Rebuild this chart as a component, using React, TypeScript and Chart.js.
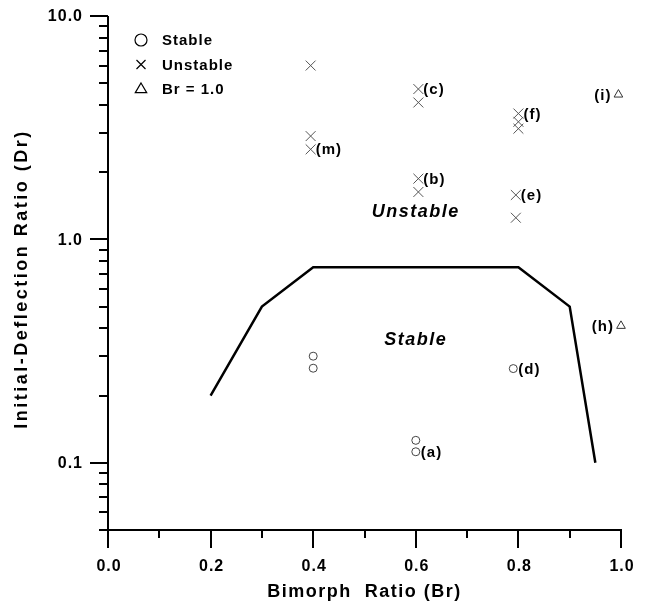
import React, { useEffect, useRef } from 'react';
import { Chart, registerables } from 'chart.js';

Chart.register(...registerables);

// ---- data ----
const stableBr = [0.4, 0.4, 0.6, 0.6, 0.79];
const stableDr = [0.3, 0.265, 0.126, 0.112, 0.264];
const stableTags = ['', '', '', '(a)', '(d)'];

const unstableBr = [0.395, 0.395, 0.395, 0.605, 0.605, 0.605, 0.605, 0.8, 0.8, 0.8, 0.795, 0.795];
const unstableDr = [6.0, 2.9, 2.53, 4.71, 4.1, 1.87, 1.63, 3.66, 3.36, 3.13, 1.58, 1.25];
const unstableTags = ['', '', '(m)', '(c)', '', '(b)', '', '(f)', '', '', '(e)', ''];

const br1Br = [0.995, 1.0, 1.005];
const br1Dr = [4.45, 0.41, 0.198];
const br1Tags = ['(i)', '(h)', ''];

const boundaryBr = [0.2, 0.3, 0.4, 0.8, 0.9, 0.95];
const boundaryDr = [0.2, 0.5, 0.75, 0.75, 0.5, 0.1];

const xMajorTicks = [0, 0.2, 0.4, 0.6, 0.8, 1.0];
const xTickLabels = ['0.0', '0.2', '0.4', '0.6', '0.8', '1.0'];
const xMinorTicks = [0.1, 0.3, 0.5, 0.7, 0.9];

const yMajorTicks = [0.1, 1, 10];
const yTickLabels = ['0.1', '1.0', '10.0'];
const yMinorTicks = [0.05, 0.06, 0.07, 0.08, 0.09, 0.2, 0.3, 0.4, 0.5, 0.6, 0.7, 0.8, 0.9, 2, 3, 4, 5, 6, 7, 8, 9];

const legendLabels = ['Stable', 'Unstable', 'Br = 1.0'];
const legendShapes = ['circle', 'cross', 'triangle'];

const regionTexts = ['Unstable', 'Stable'];
const regionBr = [0.6, 0.6];
const regionDr = [1.32, 0.355];

const xTitle = 'Bimorph  Ratio (Br)';
const yTitle = 'Initial-Deflection Ratio (Dr)';

const FONT = "'Liberation Sans', Arial, sans-serif";

function toPoints(xs: number[], ys: number[]) {
  return xs.map((x, i) => ({ x, y: ys[i] }));
}

function drawShape(ctx: CanvasRenderingContext2D, shape: string, x: number, y: number, r: number) {
  ctx.beginPath();
  if (shape === 'circle') {
    ctx.arc(x, y, r, 0, Math.PI * 2);
  } else if (shape === 'cross') {
    const d = r * 0.75;
    ctx.moveTo(x - d, y - d);
    ctx.lineTo(x + d, y + d);
    ctx.moveTo(x - d, y + d);
    ctx.lineTo(x + d, y - d);
  } else {
    ctx.moveTo(x, y - r);
    ctx.lineTo(x + r * 0.95, y + r * 0.6);
    ctx.lineTo(x - r * 0.95, y + r * 0.6);
    ctx.closePath();
  }
  ctx.stroke();
}

const decorPlugin = {
  id: 'decor',
  afterDraw(chart: any) {
    const ctx: CanvasRenderingContext2D = chart.ctx;
    const xs = chart.scales.x;
    const ys = chart.scales.y;
    const { left, right, top, bottom } = chart.chartArea;
    ctx.save();
    ctx.strokeStyle = '#000';
    ctx.lineWidth = 2;
    ctx.lineCap = 'butt';
    // axis lines
    ctx.beginPath();
    ctx.moveTo(left, top);
    ctx.lineTo(left, bottom);
    ctx.moveTo(left, bottom);
    ctx.lineTo(right + 1, bottom);
    ctx.stroke();
    // y ticks
    ctx.beginPath();
    yMajorTicks.forEach((v) => {
      const p = Math.round(ys.getPixelForValue(v));
      ctx.moveTo(left - 18, p);
      ctx.lineTo(left, p);
    });
    yMinorTicks.forEach((v) => {
      const p = Math.round(ys.getPixelForValue(v));
      ctx.moveTo(left - 9, p);
      ctx.lineTo(left, p);
    });
    // x ticks
    xMajorTicks.forEach((v) => {
      const p = Math.round(xs.getPixelForValue(v));
      ctx.moveTo(p, bottom);
      ctx.lineTo(p, bottom + 18);
    });
    xMinorTicks.forEach((v) => {
      const p = Math.round(xs.getPixelForValue(v));
      ctx.moveTo(p, bottom);
      ctx.lineTo(p, bottom + 8);
    });
    ctx.stroke();

    ctx.fillStyle = '#000';
    // tick labels
    (ctx as any).letterSpacing = '1px';
    ctx.font = `bold 16px ${FONT}`;
    ctx.textAlign = 'right';
    ctx.textBaseline = 'middle';
    yMajorTicks.forEach((v, i) => {
      ctx.fillText(yTickLabels[i], left - 25, ys.getPixelForValue(v) + 1);
    });
    ctx.textAlign = 'center';
    ctx.textBaseline = 'top';
    xMajorTicks.forEach((v, i) => {
      ctx.fillText(xTickLabels[i], xs.getPixelForValue(v) + 1, bottom + 29);
    });

    // axis titles
    (ctx as any).letterSpacing = '1.5px';
    ctx.font = `bold 18px ${FONT}`;
    ctx.textAlign = 'center';
    ctx.textBaseline = 'middle';
    ctx.fillText(xTitle, (left + right) / 2, 592);
    ctx.save();
    (ctx as any).letterSpacing = '2.5px';
    ctx.translate(22, 279);
    ctx.rotate(-Math.PI / 2);
    ctx.fillText(yTitle, 0, 0);
    ctx.restore();

    // legend
    (ctx as any).letterSpacing = '1px';
    ctx.font = `bold 15px ${FONT}`;
    ctx.textAlign = 'left';
    legendLabels.forEach((lab, i) => {
      const cy = 40 + i * 24.5;
      ctx.strokeStyle = '#000';
      ctx.lineWidth = 1.2;
      drawShape(ctx, legendShapes[i], 141, cy, 6);
      ctx.fillText(lab, 162, cy + 1);
    });

    // point tags
    ctx.font = `bold 15px ${FONT}`;
    const tag = (bx: number[], dy: number[], tags: string[], dx: number) => {
      tags.forEach((t, i) => {
        if (!t) return;
        const px = xs.getPixelForValue(bx[i]);
        const py = ys.getPixelForValue(dy[i]);
        ctx.textAlign = dx > 0 ? 'left' : 'right';
        ctx.fillText(t, px + dx, py + 1);
      });
    };
    tag(stableBr, stableDr, stableTags, 5);
    tag(unstableBr, unstableDr, unstableTags, 5);
    tag(br1Br, br1Dr, br1Tags, -7);

    // region labels
    ctx.font = `italic bold 18px ${FONT}`;
    (ctx as any).letterSpacing = '1.5px';
    ctx.textAlign = 'center';
    regionTexts.forEach((t, i) => {
      ctx.fillText(t, xs.getPixelForValue(regionBr[i]), ys.getPixelForValue(regionDr[i]));
    });
    ctx.restore();
  },
};

export default function App() {
  const ref = useRef<HTMLCanvasElement | null>(null);
  useEffect(() => {
    if (!ref.current) return;
    const chart = new Chart(ref.current, {
      type: 'scatter',
      data: {
        datasets: [
          {
            type: 'line',
            data: toPoints(boundaryBr, boundaryDr),
            borderColor: '#000',
            borderWidth: 2.5,
            pointRadius: 0,
            fill: false,
            tension: 0,
          } as any,
          {
            data: toPoints(stableBr, stableDr),
            pointStyle: 'circle',
            pointRadius: 4,
            borderColor: '#444',
            backgroundColor: 'rgba(0,0,0,0)',
            borderWidth: 1,
          },
          {
            data: toPoints(unstableBr, unstableDr),
            pointStyle: 'crossRot',
            pointRadius: 7,
            borderColor: '#555',
            borderWidth: 1,
          },
          {
            data: toPoints(br1Br, br1Dr),
            pointStyle: 'triangle',
            pointRadius: 5,
            borderColor: '#333',
            backgroundColor: 'rgba(0,0,0,0)',
            borderWidth: 1,
          },
        ],
      },
      options: {
        responsive: false,
        animation: false,
        devicePixelRatio: 1,
        clip: false as any,
        layout: { padding: { top: 16, right: 24, left: 0, bottom: 0 } },
        plugins: { legend: { display: false }, tooltip: { enabled: false }, title: { display: false } },
        scales: {
          x: {
            type: 'linear',
            min: 0,
            max: 1,
            afterBuildTicks: (s: any) => {
              s.ticks = xMajorTicks.map((v) => ({ value: v }));
            },
            afterFit: (s: any) => {
              s.height = 79;
              s.paddingLeft = 0;
              s.paddingRight = 0;
            },
            grid: { display: false, drawTicks: false },
            border: { display: false },
            ticks: { display: false },
          },
          y: {
            type: 'logarithmic',
            min: 0.05,
            max: 10,
            afterBuildTicks: (s: any) => {
              s.ticks = yMajorTicks.map((v) => ({ value: v, major: true }));
            },
            afterFit: (s: any) => {
              s.width = 108;
              s.paddingTop = 0;
              s.paddingBottom = 0;
            },
            grid: { display: false, drawTicks: false },
            border: { display: false },
            ticks: { display: false },
          },
        },
      },
      plugins: [decorPlugin],
    });
    return () => chart.destroy();
  }, []);
  return (
    <div style={{ position: 'fixed', left: 0, top: 0, width: 645, height: 609, background: '#fff' }}>
      <canvas ref={ref} width={645} height={609} style={{ display: 'block' }} />
    </div>
  );
}
